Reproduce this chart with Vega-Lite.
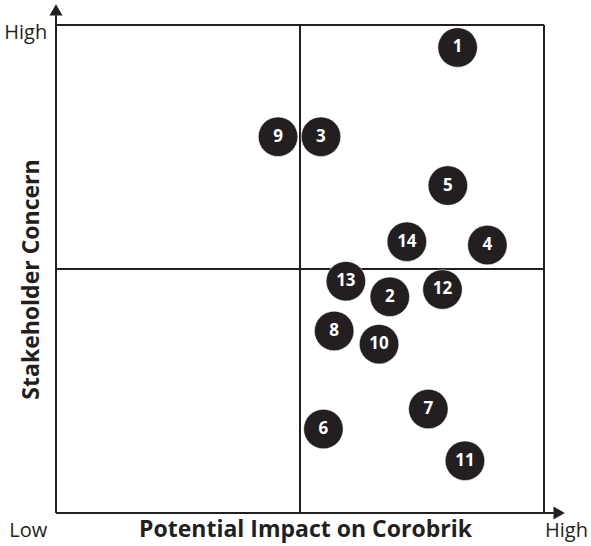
{
  "$schema": "https://vega.github.io/schema/vega-lite/v6.json",
  "width": 488,
  "height": 488,
  "autosize": "none",
  "padding": {"left": 56, "top": 25, "right": 47, "bottom": 33},
  "background": "white",
  "config": {"view": {"stroke": null}, "font": "Open Sans"},
  "datasets": {
    "lines": [
      {"x": 0, "y": 0, "x2": 0, "y2": 10.2},
      {"x": 0, "y": 0, "x2": 10.2, "y2": 0},
      {"x": 0, "y": 10, "x2": 10, "y2": 10},
      {"x": 10, "y": 0, "x2": 10, "y2": 10},
      {"x": 5, "y": 0, "x2": 5, "y2": 10},
      {"x": 0, "y": 5, "x2": 10, "y2": 5}
    ],
    "points": [
      {"id": "1", "x": 8.23, "y": 9.54},
      {"id": "9", "x": 4.55, "y": 7.71},
      {"id": "3", "x": 5.43, "y": 7.71},
      {"id": "5", "x": 8.03, "y": 6.71},
      {"id": "14", "x": 7.19, "y": 5.56},
      {"id": "4", "x": 8.84, "y": 5.49},
      {"id": "13", "x": 5.94, "y": 4.75},
      {"id": "2", "x": 6.84, "y": 4.43},
      {"id": "12", "x": 7.92, "y": 4.58},
      {"id": "8", "x": 5.70, "y": 3.73},
      {"id": "10", "x": 6.62, "y": 3.46},
      {"id": "7", "x": 7.63, "y": 2.13},
      {"id": "6", "x": 5.48, "y": 1.72},
      {"id": "11", "x": 8.38, "y": 1.07}
    ]
  },
  "encoding": {
    "x": {"field": "x", "type": "quantitative", "scale": {"domain": [0, 10], "nice": false, "zero": false},
      "axis": {"title": "Potential Impact on Corobrik", "labels": false, "ticks": false, "domain": false, "grid": false,
        "titleFontSize": 23, "titleFontWeight": "bold", "titleColor": "#231f20", "titlePadding": 5, "titleX": 249, "titleFont": "Open Sans"}},
    "y": {"field": "y", "type": "quantitative", "scale": {"domain": [0, 10], "nice": false, "zero": false},
      "axis": {"title": "Stakeholder Concern", "labels": false, "ticks": false, "domain": false, "grid": false,
        "titleFontSize": 23, "titleFontWeight": "bold", "titleColor": "#231f20", "titlePadding": 13, "titleY": 254, "titleFont": "Open Sans"}}
  },
  "layer": [
    {
      "data": {"name": "lines"},
      "mark": {"type": "rule", "color": "#231f20", "strokeWidth": 2},
      "encoding": {
        "x2": {"field": "x2"},
        "y2": {"field": "y2"}
      }
    },
    {
      "data": {"values": [{"x": 0, "y": 10.31}]},
      "mark": {"type": "point", "shape": "triangle-up", "filled": true, "color": "#231f20", "size": 170, "opacity": 1}
    },
    {
      "data": {"values": [{"x": 10.31, "y": 0}]},
      "mark": {"type": "point", "shape": "triangle-right", "filled": true, "color": "#231f20", "size": 170, "opacity": 1}
    },
    {
      "data": {"values": [{"label": "High", "x": -0.18, "y": 9.84}, {"label": "Low", "x": -0.18, "y": -0.37}]},
      "mark": {"type": "text", "align": "right", "baseline": "middle", "fontSize": 20, "color": "#231f20"},
      "encoding": {"text": {"field": "label"}}
    },
    {
      "data": {"values": [{"label": "High", "x": 10.02, "y": -0.37}]},
      "mark": {"type": "text", "align": "left", "baseline": "middle", "fontSize": 20, "color": "#231f20"},
      "encoding": {"text": {"field": "label"}}
    },
    {
      "data": {"name": "points"},
      "mark": {"type": "circle", "size": 1560, "color": "#231f20", "opacity": 1, "stroke": "white", "strokeWidth": 0.5}
    },
    {
      "data": {"name": "points"},
      "mark": {"type": "text", "color": "white", "fontSize": 17, "fontWeight": "bold", "baseline": "middle", "align": "center"},
      "encoding": {"text": {"field": "id"}}
    }
  ]
}
